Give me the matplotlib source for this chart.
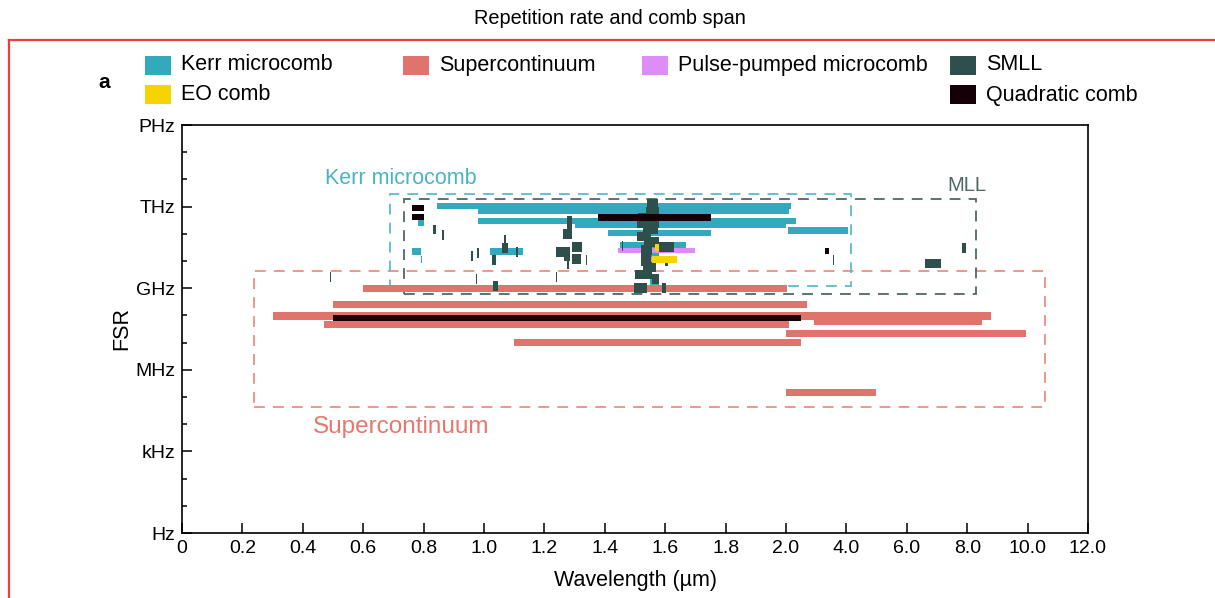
import numpy as np
import matplotlib
matplotlib.use("Agg")
import matplotlib.pyplot as plt
from matplotlib.patches import Rectangle
from matplotlib.lines import Line2D

plt.rcParams['font.family'] = ['Liberation Sans', 'DejaVu Sans']

# comb spans: start wavelength (um), end wavelength (um), repetition rate (Hz)
sc_start = [0.60, 0.50, 0.30, 0.47, 2.93, 2.00, 1.10, 2.00]
sc_end   = [2.04, 2.69, 8.78, 2.10, 8.49, 9.96, 2.50, 4.98]
sc_fsr   = [1.0e9, 2.6e8, 9.5e7, 4.8e7, 6.2e7, 2.1e7, 1.0e7, 1.5e5]

kerr_start = [0.845, 0.98, 0.98, 1.30, 2.05, 1.41, 1.45, 0.76, 1.02, 0.78, 0.790, 1.52, 1.55]
kerr_end   = [2.17, 2.10, 2.34, 2.00, 4.06, 1.75, 1.67, 0.79, 1.13, 0.80, 0.795, 1.58, 1.58]
kerr_fsr   = [1.05e12, 7.0e11, 2.95e11, 2.2e11, 1.3e11, 1.07e11, 3.9e10, 2.2e10, 2.2e10,
              2.6e11, 1.1e10, 1.8e10, 1.8e9]

pulse_start = [1.445, 1.52]
pulse_end   = [1.70, 1.58]
pulse_fsr   = [2.45e10, 1.1e10]

eo_start = [1.565, 1.557]
eo_end   = [1.580, 1.640]
eo_fsr   = [3.2e10, 1.1e10]

quad_start = [1.377, 0.76, 0.76, 3.30, 0.50]
quad_end   = [1.750, 0.80, 0.80, 3.43, 2.50]
quad_fsr   = [4.0e11, 8.9e11, 4.2e11, 2.3e10, 8.0e7]

smll_start = [1.540, 1.535, 1.510, 1.505, 1.525, 1.505, 1.530, 1.578, 1.520, 1.520,
              1.520, 1.525, 1.500, 1.555, 1.496, 1.588, 1.456, 1.600,
              1.275, 1.275, 1.261, 1.240, 1.290, 1.290, 1.265, 1.274, 1.337,
              0.832, 0.861, 0.957, 0.977, 1.026, 1.060, 1.066, 1.106, 0.974, 1.030, 1.238, 0.490,
              3.56, 7.82, 6.60]
smll_end   = [1.575, 1.578, 1.580, 1.578, 1.575, 1.552, 1.578, 1.630, 1.555, 1.552,
              1.552, 1.568, 1.555, 1.578, 1.540, 1.604, 1.460, 1.610,
              1.290, 1.290, 1.290, 1.285, 1.324, 1.320, 1.285, 1.280, 1.341,
              0.841, 0.868, 0.962, 0.983, 1.040, 1.080, 1.074, 1.111, 0.978, 1.045, 1.242, 0.495,
              3.60, 7.96, 7.13]
smll_fsr   = [1.3e12, 6.5e11, 4.0e11, 2.5e11, 1.5e11, 8.0e10, 5.0e10, 3.2e10, 2.5e10, 1.5e10,
              1.0e10, 6.0e9, 3.2e9, 2.2e9, 1.0e9, 1.0e9, 3.5e10, 1.0e10,
              3.0e11, 1.6e11, 1.0e11, 2.2e10, 3.3e10, 1.2e10, 1.5e10, 8.0e9, 1.1e10,
              1.45e11, 9.1e10, 1.5e10, 2.0e10, 1.1e10, 3.0e10, 6.0e10, 2.2e10, 2.2e9, 1.2e9, 2.5e9, 2.5e9,
              1.1e10, 3.0e10, 8.1e9]

# dashed outlines: wavelength range and FSR range
kerr_box = (0.69, 4.15, 1.2e9, 2.9e12)
mll_box = (0.736, 8.3, 6.2e8, 1.9e12)
sc_box = (0.24, 10.57, 4.3e4, 4.3e9)

xtick_vals = [0, 0.2, 0.4, 0.6, 0.8, 1.0, 1.2, 1.4, 1.6, 1.8, 2.0, 4.0, 6.0, 8.0, 10.0, 12.0]
xtick_labels = ['0', '0.2', '0.4', '0.6', '0.8', '1.0', '1.2', '1.4', '1.6', '1.8',
                '2.0', '4.0', '6.0', '8.0', '10.0', '12.0']
ytick_labels = ['Hz', 'kHz', 'MHz', 'GHz', 'THz', 'PHz']

c_kerr = '#33a9bd'
c_sc = '#e0736b'
c_pulse = '#dd8cf8'
c_smll = '#2f4f4c'
c_eo = '#f5d400'
c_quad = '#150008'


# wavelength axis: linear to 2 um, compressed 10x beyond
def fwd(x):
    x = np.asarray(x, dtype=float)
    return np.where(x <= 2, x, 2 + (x - 2) / 10.0)


def inv(t):
    t = np.asarray(t, dtype=float)
    return np.where(t <= 2, t, 2 + (t - 2) * 10.0)


fig = plt.figure(figsize=(12.15, 5.98), dpi=100)
ax = fig.add_axes([182 / 1215, 1 - 533 / 598, 906 / 1215, 408 / 598])
ax.set_xscale('function', functions=(fwd, inv))


def draw_bars(start, end, fsr, color, h):
    start = np.array(start)
    end = np.array(end)
    ax.barh(np.log10(fsr), end - start, left=start, height=h, color=color, linewidth=0)


def draw_box(box, color):
    x0, x1, f0, f1 = box
    y0, y1 = np.log10(f0), np.log10(f1)
    ax.add_patch(Rectangle((x0, y0), x1 - x0, y1 - y0, fill=False, edgecolor=color,
                           linewidth=1.3, linestyle=(0, (6, 4.5))))


draw_box(sc_box, '#ee8c85')
draw_box(kerr_box, '#5bbccd')
draw_box(mll_box, '#4f6866')

draw_bars(sc_start, sc_end, sc_fsr, c_sc, 0.26)
draw_bars(kerr_start, kerr_end, kerr_fsr, c_kerr, 0.25)
draw_bars(pulse_start, pulse_end, pulse_fsr, c_pulse, 0.2)
draw_bars(smll_start, smll_end, smll_fsr, c_smll, 0.36)
draw_bars(eo_start, eo_end, eo_fsr, c_eo, 0.25)
draw_bars(quad_start, quad_end, quad_fsr, c_quad, 0.23)

ax.text(0.475, 13.05, 'Kerr microcomb', color='#4ab3c6', fontsize=15.5, va='center')
ax.text(7.35, 12.76, 'MLL', color='#4f6866', fontsize=14.5, va='center')
ax.text(0.432, 3.9, 'Supercontinuum', color='#e8776f', fontsize=17.5, va='center')

ax.set_xlim(0, 12)
ax.set_ylim(0, 15)
ax.set_xticks(xtick_vals)
ax.set_xticklabels(xtick_labels)
ax.set_yticks(np.arange(0, 16, 3))
ax.set_yticklabels(ytick_labels)
ax.set_yticks(np.arange(0, 16, 1), minor=True)
ax.xaxis.set_minor_locator(matplotlib.ticker.NullLocator())
ax.tick_params(which='both', direction='in', top=False, right=False, labelsize=14, width=1.1)
ax.tick_params(which='major', length=7, pad=5)
ax.tick_params(which='minor', length=3.5)
for s in ax.spines.values():
    s.set_linewidth(1.2)

ax.set_xlabel('Wavelength (µm)', fontsize=15.5)
ax.xaxis.set_label_coords(0.5, -0.09)
ax.set_ylabel('FSR', fontsize=15.5)
ax.yaxis.set_label_coords(-0.055, 0.5)

# legend drawn as patches + labels in figure pixels
legend_items = [('Kerr microcomb', c_kerr, 145, 65), ('Supercontinuum', c_sc, 403, 65),
                ('Pulse-pumped microcomb', c_pulse, 642, 65), ('SMLL', c_smll, 950, 65),
                ('EO comb', c_eo, 145, 95), ('Quadratic comb', c_quad, 950, 95)]
for label, color, px, py in legend_items:
    fig.patches.append(Rectangle((px / 1215, 1 - (py + 9.5) / 598), 26 / 1215, 19 / 598,
                                 transform=fig.transFigure, facecolor=color, edgecolor='none'))
    fig.text((px + 36) / 1215, 1 - py / 598, label, fontsize=15.5, va='center', ha='left')

fig.text(104 / 1215, 1 - 82 / 598, 'a', fontsize=15, fontweight='bold', ha='center', va='center')
fig.text(610 / 1215, 1 - 18 / 598, 'Repetition rate and comb span', fontsize=14.3,
         ha='center', va='center')

# red frame around the panel
fig.add_artist(Line2D([9 / 1215, 1.0], [1 - 40 / 598, 1 - 40 / 598], color='#f03c3c', linewidth=1.6))
fig.add_artist(Line2D([9 / 1215, 9 / 1215], [0, 1 - 40 / 598], color='#f03c3c', linewidth=1.6))

fig.savefig('out.png', dpi=100)
